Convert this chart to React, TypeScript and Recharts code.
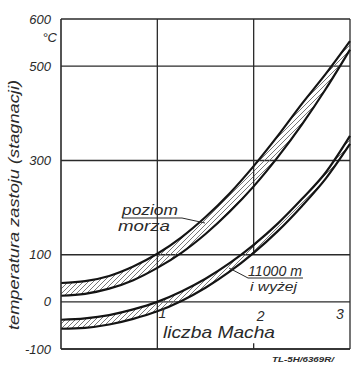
import { ComposedChart, Area, Line, XAxis, YAxis, CartesianGrid, ReferenceLine } from 'recharts';

// Mach number samples and stagnation temperatures (°C)
const mach = [0, 0.25, 0.5, 0.75, 1, 1.25, 1.5, 1.75, 2, 2.25, 2.5, 2.75, 3];
const seaLevelLow = [13, 17, 28, 46, 72, 104, 144, 191, 245, 307, 376, 452, 535];
const seaLevelHigh = [40, 44, 55, 75, 102, 137, 180, 230, 288, 352, 420, 484, 553];
const altitudeLow = [-57, -55, -48, -36, -20, 2, 30, 64, 104, 150, 203, 262, 335];
const altitudeHigh = [-38, -35, -28, -16, 0, 22, 49, 82, 121, 166, 218, 275, 352];

const yTicks = [-100, 0, 100, 300, 500, 600];
const xTicks = [1, 2, 3];

const data = mach.map((m, i) => ({
  m,
  seaLow: seaLevelLow[i],
  seaHigh: seaLevelHigh[i],
  seaBand: [seaLevelLow[i], seaLevelHigh[i]],
  altLow: altitudeLow[i],
  altHigh: altitudeHigh[i],
  altBand: [altitudeLow[i], altitudeHigh[i]],
}));

const INK = '#2a2a2a';
const FONT = '"Liberation Sans", "DejaVu Sans", sans-serif';

const tickShift: Record<number, { dx: number; y: number }> = {
  1: { dx: 5, y: 318 },
  2: { dx: 7, y: 321 },
  3: { dx: -8, y: 319 },
};

function MachTick(props: any) {
  const { x, payload } = props;
  const s = tickShift[payload.value] ?? { dx: 0, y: 318 };
  return (
    <text x={x + s.dx} y={s.y} textAnchor="middle" fontSize={14} fontStyle="italic" fontFamily={FONT} fill={INK}>
      {payload.value}
    </text>
  );
}

export default function App() {
  const curve = { type: 'monotone' as const, stroke: '#141414', strokeWidth: 2.2, dot: false, isAnimationActive: false };
  const txt = { fontFamily: FONT, fontStyle: 'italic', fill: INK };
  return (
    <div style={{ position: 'relative', width: 352, height: 365, background: '#fff' }}>
      <style>{'body{margin:0}'}</style>
      <ComposedChart width={352} height={365} data={data} margin={{ top: 19, right: 2, bottom: 0, left: 0 }}>
        <defs>
          <pattern id="hatch" patternUnits="userSpaceOnUse" width={5} height={5}>
            <path d="M-1,6 L6,-1" stroke="#666" strokeWidth={0.9} />
          </pattern>
        </defs>
        <CartesianGrid vertical={false} stroke={INK} strokeWidth={1.4} />
        <XAxis
          dataKey="m"
          type="number"
          domain={[0, 3]}
          ticks={xTicks}
          height={16}
          axisLine={{ stroke: INK, strokeWidth: 1.5 }}
          tickLine={false}
          tick={<MachTick />}
        />
        <YAxis
          type="number"
          domain={[-100, 600]}
          ticks={yTicks}
          interval={0}
          width={61}
          axisLine={{ stroke: INK, strokeWidth: 1.6 }}
          tickLine={false}
          tickMargin={4}
          tick={{ fill: INK, fontSize: 13, fontStyle: 'italic', fontFamily: FONT }}
        />
        <ReferenceLine x={1} stroke={INK} strokeWidth={1.3} />
        <ReferenceLine segment={[{ x: 2, y: 600 }, { x: 2, y: 100 }]} stroke={INK} strokeWidth={1.3} />
        <ReferenceLine segment={[{ x: 2, y: -100 }, { x: 2, y: -88 }]} stroke={INK} strokeWidth={1.3} />
        <ReferenceLine x={3} stroke={INK} strokeWidth={1.3} />
        <Area dataKey="seaBand" type="monotone" stroke="none" fill="url(#hatch)" fillOpacity={1} isAnimationActive={false} />
        <Area dataKey="altBand" type="monotone" stroke="none" fill="url(#hatch)" fillOpacity={1} isAnimationActive={false} />
        <Line dataKey="seaHigh" {...curve} />
        <Line dataKey="seaLow" {...curve} />
        <Line dataKey="altHigh" {...curve} />
        <Line dataKey="altLow" {...curve} />
      </ComposedChart>
      <svg width={352} height={365} style={{ position: 'absolute', left: 0, top: 0, pointerEvents: 'none' }}>
        <text x={57} y={42} textAnchor="end" fontSize={13} {...txt}>°C</text>
        <text
          transform="translate(19,205) rotate(-90)"
          textAnchor="middle"
          fontSize={14}
          textLength={250}
          lengthAdjust="spacingAndGlyphs"
          {...txt}
        >
          temperatura  zastoju (stagnacji)
        </text>
        <text x={122} y={215} fontSize={15} textLength={56} lengthAdjust="spacingAndGlyphs" {...txt}>poziom</text>
        <polyline points="122,218 182,218 205,223" fill="none" stroke={INK} strokeWidth={1} />
        <text x={118} y={231} fontSize={15} textLength={52} lengthAdjust="spacingAndGlyphs" {...txt}>morza</text>
        <text x={248} y={276} fontSize={14} textLength={54} lengthAdjust="spacingAndGlyphs" {...txt}>11000 m</text>
        <polyline points="303,278 248,278 229,268" fill="none" stroke={INK} strokeWidth={1} />
        <text x={250} y={291} fontSize={13} textLength={47} lengthAdjust="spacingAndGlyphs" {...txt}>i wyżej</text>
        <text x={163} y={338} fontSize={17} textLength={112} lengthAdjust="spacingAndGlyphs" {...txt}>liczba Macha</text>
        <text x={272} y={362} fontSize={6.5} fontWeight="bold" textLength={62} lengthAdjust="spacingAndGlyphs" {...txt}>TL-5H/6369R/</text>
      </svg>
    </div>
  );
}
